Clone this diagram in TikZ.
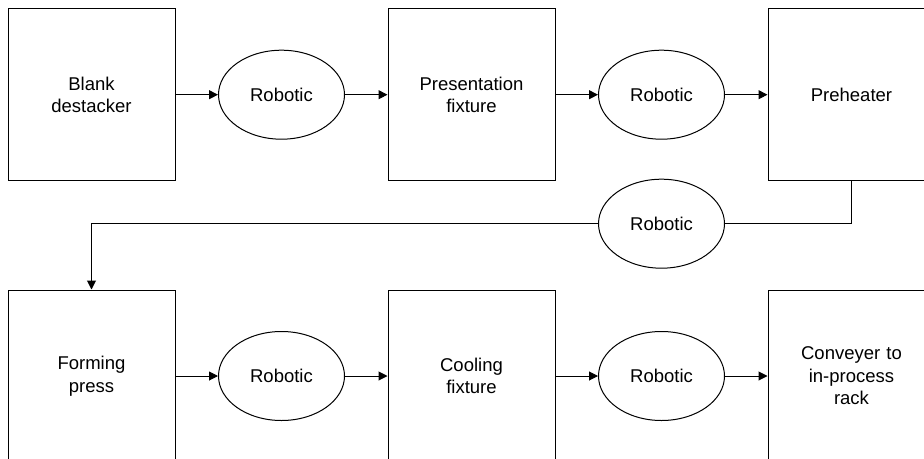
\documentclass[tikz,border=0pt]{standalone}
\usepackage{fontspec}
\setmainfont{Liberation Sans}
\usetikzlibrary{shapes.geometric,arrows.meta,positioning}
\tikzstyle{station} = [rectangle, draw, text width=150pt, align=center,
    minimum width=167pt, minimum height=172pt]
\tikzstyle{robot} = [ellipse, draw, minimum width=126pt, minimum height=89pt,
    inner sep=0pt]
\tikzstyle{line} = [draw, -{Triangle[length=9pt,width=9pt]}]

\begin{document}
\begin{tikzpicture}[node distance = 42.5pt, line width=1pt,
    font=\fontsize{18.5}{22.5}\selectfont]
        % Page frame
        \useasboundingbox (0,0) rectangle (924pt,-458pt);
        \clip (0,0) rectangle (924pt,-458pt);

        % Place nodes
        % 1. Upper line: destacker to preheater
        \node [station] (dest) at (91.5pt,-94.7pt) {Blank\\destacker};
        \node [robot, right=of dest] (rob1) {Robotic};
        \node [station, right=of rob1] (pres) {Presentation\\fixture};
        \node [robot, right=of pres] (rob2) {Robotic};
        \node [station, right=of rob2] (preh) {Preheater};

        % 2. Transfer from preheater down to the press
        \node [robot, below=39pt of rob2] (rob3) {Robotic};

        % 3. Lower line: press to conveyer
        \node [station] (form) at (91.5pt,-376pt) {Forming\\press};
        \node [robot, right=of form] (rob4) {Robotic};
        \node [station, right=of rob4] (cool) {Cooling\\fixture};
        \node [robot, right=of cool] (rob5) {Robotic};
        \node [station, right=of rob5] (conv) {Conveyer to\\in-process\\rack};

        % Draw edges
        \path [line] (dest) -- (rob1);
        \path [line] (rob1) -- (pres);
        \path [line] (pres) -- (rob2);
        \path [line] (rob2) -- (preh);
        \draw (preh.south) |- (rob3.east);
        \path [line] (rob3.west) -| (form.north);
        \path [line] (form) -- (rob4);
        \path [line] (rob4) -- (cool);
        \path [line] (cool) -- (rob5);
        \path [line] (rob5) -- (conv);

      \end{tikzpicture}
\end{document}
